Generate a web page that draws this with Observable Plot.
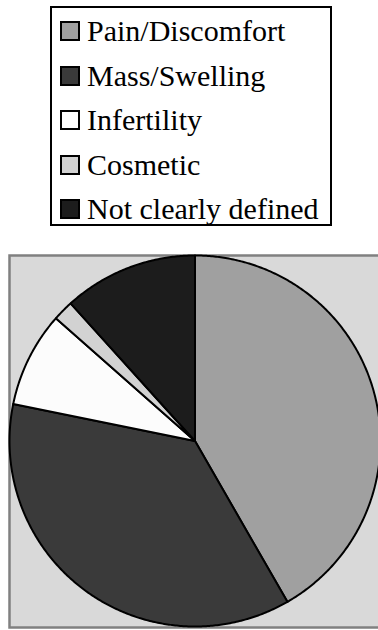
<!DOCTYPE html>
<html>
<head>
<meta charset="utf-8">
<script src="https://cdn.jsdelivr.net/npm/d3@7"></script>
<script src="https://cdn.jsdelivr.net/npm/@observablehq/plot@0.6"></script>
<style>
  html, body { margin: 0; padding: 0; background: #ffffff; overflow: hidden; width: 378px; height: 630px; }
  #legend { position: absolute; left: 50px; top: 6px; width: 278px; height: 216px; border: 2.5px solid #000; background: #fff; font-family: "Liberation Serif", "Times New Roman", serif; font-size: 30px; color: #000; }
  .row { position: absolute; left: 8px; height: 44px; display: flex; align-items: center; white-space: nowrap; }
  .sw { width: 16px; height: 16px; border: 2px solid #000; margin-right: 7px; flex: none; }
  #chart { position: absolute; left: 0; top: 240px; width: 378px; height: 390px; overflow: hidden; }
  #chart svg { max-width: none !important; }
</style>
</head>
<body>
<div id="legend"></div>
<div id="chart"></div>
<script>
const categories = ["Pain/Discomfort", "Mass/Swelling", "Infertility", "Cosmetic", "Not clearly defined"];
const values = [41.7, 36.5, 8.3, 1.8, 11.7];
const colors = ["#a0a0a0", "#3a3a3a", "#fcfcfc", "#d2d2d2", "#1c1c1c"];

// Legend
const legend = document.getElementById("legend");
categories.forEach((c, i) => {
  const row = document.createElement("div");
  row.className = "row";
  row.style.top = (1 + i * 44.5) + "px";
  const sw = document.createElement("div");
  sw.className = "sw";
  sw.style.background = colors[i];
  const t = document.createElement("span");
  t.textContent = c;
  row.appendChild(sw);
  row.appendChild(t);
  legend.appendChild(row);
});

// Pie slices as polygons in unit-circle data space (clockwise from 12 o'clock)
const pie = d3.pie().sort(null).value(d => d.value)(categories.map((c, i) => ({category: c, value: values[i]})));
const pts = [];
for (const s of pie) {
  const cat = s.data.category;
  pts.push({category: cat, x: 0, y: 0});
  const n = Math.max(2, Math.ceil((s.endAngle - s.startAngle) / (Math.PI / 360)));
  for (let k = 0; k <= n; k++) {
    const a = s.startAngle + (s.endAngle - s.startAngle) * k / n;
    pts.push({category: cat, x: Math.sin(a), y: Math.cos(a)});
  }
  pts.push({category: cat, x: 0, y: 0});
}

const chart = Plot.plot({
  width: 392,
  height: 390,
  marginLeft: 9,
  marginRight: 0,
  marginTop: 15,
  marginBottom: 3,
  x: {domain: [-1, 1], range: [9, 380], axis: null},
  y: {domain: [-1, 1], range: [386, 15], axis: null},
  color: {domain: categories, range: colors},
  style: {background: "transparent", overflow: "visible", maxWidth: "none"},
  marks: [
    Plot.frame({fill: "#d9d9d9", stroke: "#808080", strokeWidth: 2.5}),
    Plot.line(pts, {x: "x", y: "y", z: "category", fill: "category", stroke: "#000", strokeWidth: 2, strokeLinejoin: "round", curve: "linear"})
  ]
});
document.getElementById("chart").appendChild(chart);
</script>
</body>
</html>
